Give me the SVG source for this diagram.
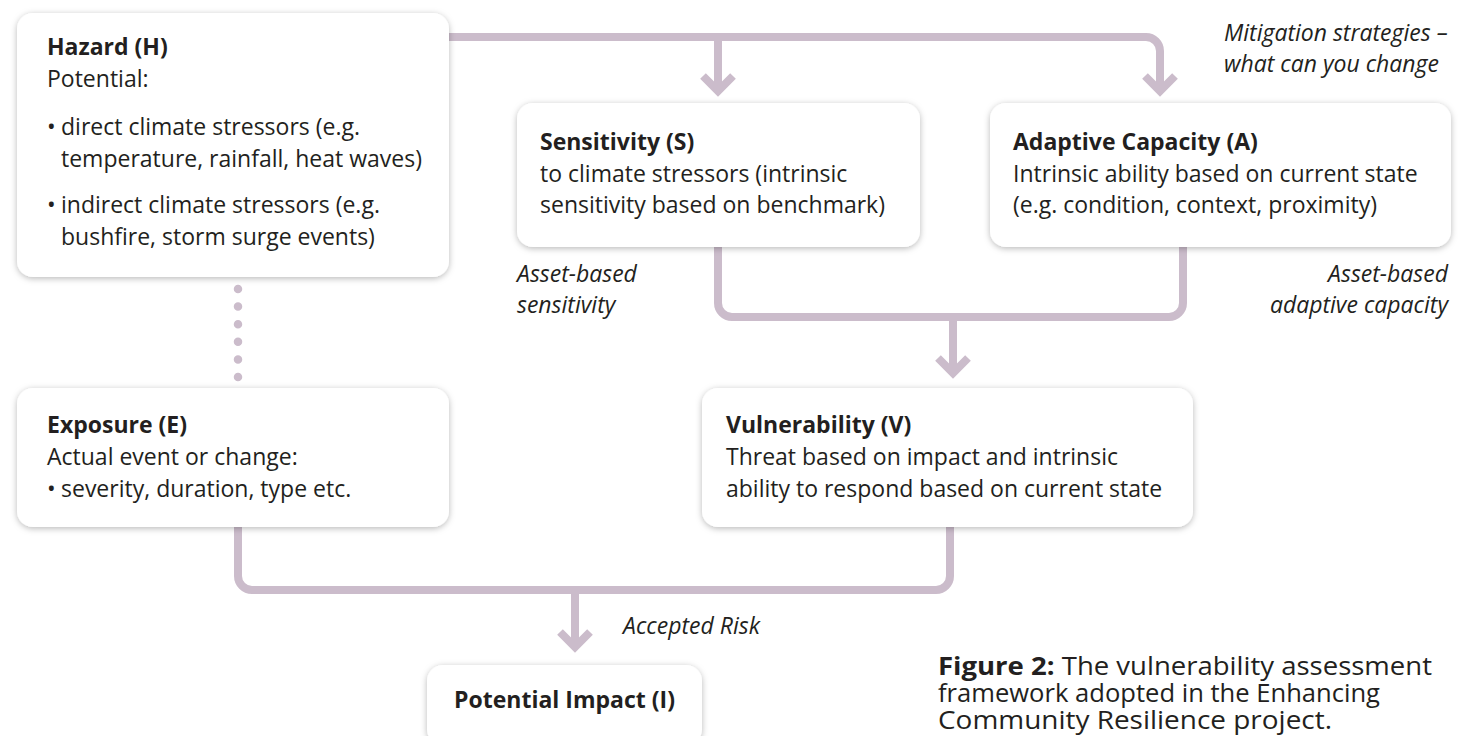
<svg xmlns="http://www.w3.org/2000/svg" width="1463" height="736" viewBox="0 0 1463 736">
<defs>
<filter id="sh" x="-10%" y="-20%" width="120%" height="150%">
<feDropShadow dx="0" dy="1.5" stdDeviation="3" flood-color="#000" flood-opacity="0.28"/>
</filter>
<style>
.box{fill:#fff;filter:url(#sh)}
.t{font-family:"Open Sans","DejaVu Sans",sans-serif;font-size:23px;fill:#231f20}
.b{font-weight:bold}
.i{font-style:italic}
.ln{fill:none;stroke:#cbbccb;stroke-width:8}
.ch{fill:none;stroke:#cbbccb;stroke-width:8;stroke-linejoin:miter;stroke-miterlimit:4}
.cap{font-family:"Open Sans","DejaVu Sans",sans-serif;font-size:25.5px;fill:#231f20}
</style>
</defs>
<rect width="1463" height="736" fill="#fff"/>

<g id="connectors">
<path class="ln" d="M449,37 H1146 A14,14 0 0 1 1160,51 V92"/>
<path class="ln" d="M718,37 V92"/>
<polyline class="ch" points="703,76 718,91 733,76"/>
<polyline class="ch" points="1145,76 1160,91 1175,76"/>
<path class="ln" d="M718,247 V303 A14,14 0 0 0 732,317 H1169 A14,14 0 0 0 1183,303 V247"/>
<path class="ln" d="M953,317 V373"/>
<polyline class="ch" points="938,358 953,373 968,358"/>
<line x1="238" y1="289" x2="238" y2="377.1" stroke="#cbbccb" stroke-width="8.5" stroke-linecap="round" stroke-dasharray="0 17.6"/>
<path class="ln" d="M238,527 V576 A14,14 0 0 0 252,590 H936 A14,14 0 0 0 950,576 V527"/>
<path class="ln" d="M575,590 V647"/>
<polyline class="ch" points="560,632 575,647 590,632"/>
</g>

<g id="hazard">
<rect class="box" x="17" y="13" width="432" height="264" rx="16"/>
<text class="t b" x="47" y="55">Hazard (H)</text>
<text class="t" x="47" y="87">Potential:</text>
<text class="t" x="47" y="135">•</text>
<text class="t" x="61" y="135">direct climate stressors (e.g.</text>
<text class="t" x="61" y="167">temperature, rainfall, heat waves)</text>
<text class="t" x="47" y="213">•</text>
<text class="t" x="61" y="213">indirect climate stressors (e.g.</text>
<text class="t" x="61" y="245">bushfire, storm surge events)</text>
</g>

<g id="sensitivity">
<rect class="box" x="517" y="103" width="403" height="144" rx="16"/>
<text class="t b" x="540" y="150">Sensitivity (S)</text>
<text class="t" x="540" y="182">to climate stressors (intrinsic</text>
<text class="t" x="540" y="213">sensitivity based on benchmark)</text>
</g>

<g id="adaptive">
<rect class="box" x="990" y="103" width="461" height="144" rx="16"/>
<text class="t b" x="1013" y="150">Adaptive Capacity (A)</text>
<text class="t" x="1013" y="182">Intrinsic ability based on current state</text>
<text class="t" x="1013" y="213">(e.g. condition, context, proximity)</text>
</g>

<g id="exposure">
<rect class="box" x="17" y="388" width="432" height="139" rx="16"/>
<text class="t b" x="47" y="433">Exposure (E)</text>
<text class="t" x="47" y="465">Actual event or change:</text>
<text class="t" x="47" y="497">•</text>
<text class="t" x="61" y="497">severity, duration, type etc.</text>
</g>

<g id="vulnerability">
<rect class="box" x="702" y="388" width="491" height="139" rx="16"/>
<text class="t b" x="726" y="433">Vulnerability (V)</text>
<text class="t" x="726" y="465">Threat based on impact and intrinsic</text>
<text class="t" x="726" y="497">ability to respond based on current state</text>
</g>

<g id="impact">
<rect class="box" x="427" y="665" width="275" height="80" rx="16"/>
<text class="t b" x="564.5" y="708" text-anchor="middle">Potential Impact (I)</text>
</g>

<g id="labels">
<text class="t i" x="1224" y="41">Mitigation strategies –</text>
<text class="t i" x="1224" y="72">what can you change</text>
<text class="t i" x="517" y="282">Asset-based</text>
<text class="t i" x="517" y="313">sensitivity</text>
<text class="t i" x="1448" y="282" text-anchor="end">Asset-based</text>
<text class="t i" x="1448" y="313" text-anchor="end">adaptive capacity</text>
<text class="t i" x="623" y="634">Accepted Risk</text>
</g>

<g id="caption">
<text class="cap" x="938" y="675" textLength="494" lengthAdjust="spacingAndGlyphs"><tspan font-weight="bold">Figure 2:</tspan> The vulnerability assessment</text>
<text class="cap" x="938" y="702" textLength="442" lengthAdjust="spacingAndGlyphs">framework adopted in the Enhancing</text>
<text class="cap" x="938" y="729" textLength="394" lengthAdjust="spacingAndGlyphs">Community Resilience project.</text>
</g>
</svg>
